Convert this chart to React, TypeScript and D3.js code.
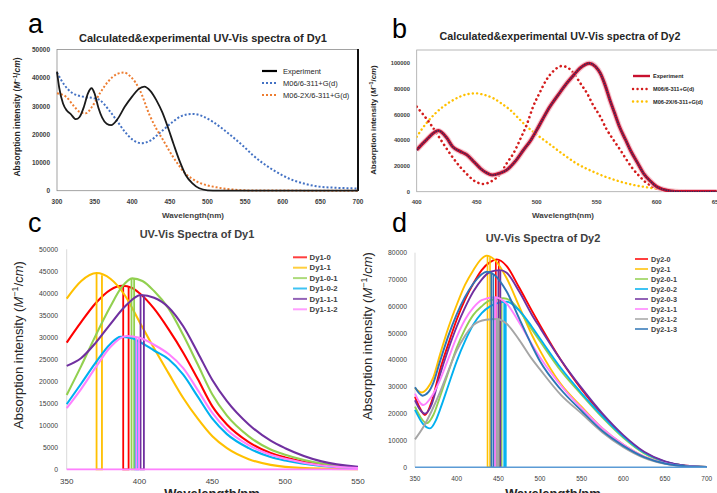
import React from 'react';
import * as d3 from 'd3';

// ---- panel a : Dy1 calculated vs experimental ----
const aExperiment = [[300, 42300], [303, 36500], [308, 31000], [313, 28500], [318, 27300], [325, 25400], [330, 26200], [336, 30000], [341, 34500], [346, 36400], [350, 34500], [355, 29500], [360, 26000], [366, 23800], [372, 23300], [380, 25300], [390, 29800], [400, 33500], [408, 36000], [416, 37000], [424, 35500], [432, 32200], [440, 27800], [447, 22800], [455, 16500], [463, 10500], [471, 5600], [480, 2600], [489, 850], [500, 150], [515, 0], [700, 0]];
const aM06 = [[300, 42000], [310, 37500], [320, 34800], [335, 33400], [350, 32800], [357, 32200], [368, 29000], [379, 25100], [390, 21000], [401, 18000], [412, 16900], [424, 17800], [436, 20400], [454, 24500], [466, 26600], [480, 27300], [494, 26400], [507, 24500], [520, 22000], [533, 19200], [547, 16000], [560, 12700], [573, 9900], [587, 7400], [600, 5400], [613, 3800], [630, 2400], [648, 1450], [670, 1050], [700, 800]];
const aM062X = [[300, 34600], [312, 33400], [322, 30200], [330, 28000], [338, 27500], [347, 30000], [357, 34600], [368, 38800], [380, 41500], [389, 42000], [398, 40500], [410, 35800], [423, 26900], [432, 22000], [441, 18000], [454, 12100], [462, 9000], [470, 6200], [480, 4200], [489, 2850], [500, 1900], [512, 1200], [525, 650], [542, 250], [560, 80], [700, 0]];

// ---- panel b : Dy2 calculated vs experimental ----
const bExperiment = [[400, 32500], [408, 40300], [418, 47500], [425, 42000], [430, 35000], [436, 31500], [442, 28600], [448, 23000], [453, 18200], [458, 14800], [463, 13000], [469, 14300], [475, 16900], [482, 23500], [489, 32500], [495, 40000], [500, 48000], [505, 56500], [511, 66200], [518, 75500], [525, 84400], [531, 91000], [536, 96100], [544, 100000], [549, 97500], [553, 92200], [557, 83000], [561, 71400], [565, 61000], [569, 50600], [574, 40500], [578, 32500], [584, 22500], [589, 14300], [595, 8000], [600, 3900], [606, 1600], [612, 500], [620, 0], [650, 0]];
const bM06 = [[400, 66200], [411, 53300], [422, 37700], [429, 28000], [436, 19500], [442, 13500], [447, 9100], [451, 7000], [455, 6000], [459, 6700], [464, 9100], [470, 14500], [475, 22100], [481, 30500], [486, 40300], [492, 53000], [497, 66200], [503, 78000], [508, 87000], [514, 94000], [521, 97900], [526, 96500], [531, 92200], [536, 85000], [542, 76600], [547, 67500], [553, 58400], [558, 49000], [564, 40300], [570, 32000], [575, 24700], [580, 18000], [586, 11700], [591, 7200], [597, 3900], [603, 1800], [608, 800], [615, 250], [625, 0], [650, 0]];
const bM062X = [[400, 42800], [408, 53300], [415, 60500], [422, 66200], [429, 70600], [436, 74000], [442, 75900], [449, 76600], [456, 75500], [464, 72700], [471, 68500], [478, 63600], [485, 57000], [492, 50600], [499, 45200], [506, 40300], [513, 35500], [519, 31200], [526, 26500], [533, 22100], [540, 18600], [547, 15600], [554, 12800], [561, 10400], [568, 8300], [575, 6500], [583, 4800], [592, 3400], [600, 2300], [608, 1300], [620, 650], [631, 300], [650, 100]];

// ---- panel c : Dy1 structures ----
const cNames = ['Dy1-0', 'Dy1-1', 'Dy1-0-1', 'Dy1-0-2', 'Dy1-1-1', 'Dy1-1-2'];
const cColors = ['#ff0000', '#ffc000', '#92d050', '#00b0f0', '#7030a0', '#ff80ff'];
const cDy10 = [[350, 28800], [360, 33500], [370, 37800], [380, 40800], [388, 41700], [395, 41200], [400, 40000], [410, 36500], [420, 31800], [430, 26500], [440, 20500], [450, 14300], [460, 10200], [475, 6200], [490, 3700], [500, 2700], [525, 1000], [550, 350]];
const cDy11 = [[350, 38800], [360, 42800], [370.5, 44600], [380, 43300], [390, 39500], [400, 33500], [410, 27500], [420, 21800], [430, 16200], [440, 11500], [450, 7500], [460, 4800], [475, 2300], [490, 1000], [500, 550], [525, 150], [550, 50]];
const cDy101 = [[350, 16900], [360, 23500], [370, 30500], [380, 37000], [388, 41500], [395, 43400], [402, 42800], [410, 40500], [420, 36500], [430, 30500], [440, 23800], [450, 17000], [460, 12200], [475, 7500], [490, 4500], [500, 3300], [525, 1300], [550, 450]];
const cDy102 = [[350, 14800], [360, 19500], [370, 24300], [380, 28500], [387, 30100], [395, 29800], [400, 29000], [410, 27000], [420, 25000], [430, 21500], [440, 16500], [450, 11500], [460, 8000], [475, 4800], [490, 2800], [500, 2000], [525, 750], [550, 250]];
const cDy111 = [[350, 23500], [360, 25300], [370, 28800], [380, 33000], [390, 37000], [401, 39600], [410, 39000], [420, 36800], [430, 32500], [440, 26500], [450, 20300], [460, 15500], [475, 10200], [490, 6500], [500, 4800], [525, 1800], [550, 550]];
const cDy112 = [[350, 13900], [360, 18300], [370, 23200], [380, 27800], [391, 30300], [400, 29900], [410, 28300], [420, 26200], [430, 23000], [440, 18000], [450, 12800], [460, 9000], [475, 5500], [490, 3300], [500, 2400], [525, 850], [550, 300]];
const cCurves = [cDy10, cDy11, cDy101, cDy102, cDy111, cDy112];
const cSticks = [[388.8, 392.5], [370.5, 374.2], [394.5, 396.3], [397.3, 399], [400.7, 403], [397.8, 399.6]];

// ---- panel d : Dy2 structures ----
const dNames = ['Dy2-0', 'Dy2-1', 'Dy2-0-1', 'Dy2-0-2', 'Dy2-0-3', 'Dy2-1-1', 'Dy2-1-2', 'Dy2-1-3'];
const dColors = ['#ff0000', '#ffc000', '#92d050', '#00b0f0', '#7030a0', '#ff80ff', '#a5a5a5', '#2e75b6'];
const dDy20 = [[350, 26300], [356, 22000], [362, 19500], [370, 24500], [380, 36300], [390, 46000], [400, 55000], [410, 62500], [420, 68500], [430, 73500], [440, 76500], [448, 77500], [460, 75000], [475, 67000], [490, 58500], [500, 53000], [525, 40000], [550, 29000], [575, 19500], [600, 11500], [625, 5500], [650, 2000], [675, 600], [700, 150]];
const dDy21 = [[350, 29500], [358, 27900], [365, 29500], [372, 33500], [380, 42000], [390, 52000], [400, 60500], [410, 68000], [420, 73500], [430, 77800], [436, 78900], [445, 77500], [460, 70500], [475, 60000], [490, 49500], [500, 43500], [525, 31000], [550, 22500], [575, 14500], [600, 8500], [625, 4000], [650, 1500], [675, 400], [700, 100]];
const dDy201 = [[350, 22600], [357, 18500], [364, 16400], [372, 19500], [380, 26300], [390, 35500], [400, 44500], [410, 51500], [420, 56800], [430, 60000], [440, 62200], [456, 63000], [465, 62000], [475, 58500], [490, 51500], [500, 47000], [525, 36000], [550, 27000], [575, 18500], [600, 11000], [625, 5200], [650, 2000], [675, 500], [700, 100]];
const dDy202 = [[350, 21400], [360, 16000], [368, 14500], [375, 17500], [380, 21500], [390, 30500], [400, 39500], [410, 47000], [420, 53200], [430, 57500], [440, 60000], [450, 61300], [460, 61700], [475, 58500], [490, 52500], [500, 48000], [525, 37000], [550, 27600], [575, 19000], [600, 11500], [625, 5500], [650, 2100], [675, 500], [700, 100]];
const dDy203 = [[350, 25000], [356, 21500], [362, 20000], [370, 23500], [380, 34500], [390, 44000], [400, 52400], [410, 59500], [420, 65500], [430, 70000], [440, 72800], [452, 73500], [460, 72500], [475, 65500], [490, 57000], [500, 52000], [525, 40000], [550, 29500], [575, 20000], [600, 12000], [625, 5800], [650, 2200], [675, 600], [700, 150]];
const dDy211 = [[350, 27500], [355, 24500], [360, 23200], [368, 25500], [380, 32500], [390, 40500], [400, 48500], [410, 55000], [420, 59500], [430, 62300], [446, 63400], [460, 61000], [475, 54000], [490, 46000], [500, 41000], [525, 30500], [550, 22000], [575, 14500], [600, 8500], [625, 4000], [650, 1500], [675, 400], [700, 100]];
const dDy212 = [[350, 10400], [360, 15000], [370, 21000], [380, 28000], [390, 36000], [400, 43500], [410, 49000], [420, 53000], [435, 55000], [448, 55300], [460, 53500], [475, 47500], [490, 40500], [500, 36500], [525, 27000], [550, 20000], [575, 13000], [600, 7500], [625, 3500], [650, 1300], [675, 350], [700, 80]];
const dDy213 = [[350, 29800], [359, 26700], [366, 28000], [372, 31500], [380, 39500], [390, 49000], [400, 57000], [410, 63500], [420, 68500], [430, 72000], [436, 72900], [445, 71800], [460, 65500], [475, 55500], [490, 45500], [500, 39500], [525, 29000], [550, 21000], [575, 13500], [600, 8000], [625, 3800], [650, 1400], [675, 400], [700, 100]];
const dCurves = [dDy20, dDy21, dDy201, dDy202, dDy203, dDy211, dDy212, dDy213];
const dSticks = [[447, 450.5], [437, 440], [452, 454], [457, 459], [450, 452.5], [445, 447], [448, 450], [441.5, 444]];

const aTicksX = [300, 350, 400, 450, 500, 550, 600, 650, 700];
const aTicksY = [0, 10000, 20000, 30000, 40000, 50000];
const bTicksX = [400, 450, 500, 550, 600, 650];
const bTicksY = [0, 20000, 40000, 60000, 80000, 100000];
const cTicksX = [350, 400, 450, 500, 550];
const cTicksY = d3.range(0, 50001, 5000);
const dTicksX = [350, 400, 450, 500, 550, 600, 650, 700];
const dTicksY = d3.range(0, 80001, 10000);

const FONT = 'Liberation Sans, Arial, sans-serif';

function YLabel({ x, y, size }: { x: number; y: number; size: number }) {
  const sup = size * 0.7;
  return (
    <text transform={`translate(${x},${y}) rotate(-90)`} textAnchor="middle" fontSize={size} fill="#262626" fontWeight={size < 11 ? 'bold' : 'normal'}>
      Absorption intensity (<tspan fontStyle="italic">M</tspan>
      <tspan dy={-size * 0.4} fontSize={sup}>−1</tspan>
      <tspan dy={size * 0.4}>/</tspan>
      <tspan fontStyle="italic">cm</tspan>)
    </text>
  );
}

function stickPath(pts: number[][], s: number[], x: any, y: any) {
  const f = d3.scaleLinear(pts.map((p) => p[0]), pts.map((p) => p[1]));
  return `M${x(s[0])},${y(f(s[0]))}L${x(s[0])},${y(0)}L${x(s[1])},${y(0)}L${x(s[1])},${y(f(s[1]))}`;
}

export default function App() {
  // panel a scales
  const xA = d3.scaleLinear([300, 700], [57, 358]);
  const yA = d3.scaleLinear([0, 50000], [190.7, 50]);
  const lineA = d3.line<number[]>().x((d) => xA(d[0])).y((d) => yA(d[1])).curve(d3.curveMonotoneX);

  const xB = d3.scaleLinear([400, 650], [416.7, 716.7]);
  const yB = d3.scaleLinear([0, 100000], [191.7, 63.3]);
  const lineB = d3.line<number[]>().x((d) => xB(d[0])).y((d) => yB(d[1])).curve(d3.curveMonotoneX);

  const xC = d3.scaleLinear([350, 550], [66.7, 358]);
  const yC = d3.scaleLinear([0, 50000], [469.3, 249.3]);
  const lineC = d3.line<number[]>().x((d) => xC(d[0])).y((d) => yC(d[1])).curve(d3.curveMonotoneX);

  const xD = d3.scaleLinear([350, 700], [415, 706.7]);
  const yD = d3.scaleLinear([0, 80000], [467.3, 252.7]);
  const lineD = d3.line<number[]>().x((d) => xD(d[0])).y((d) => yD(d[1])).curve(d3.curveMonotoneX);

  return (
    <svg width={717} height={493} style={{ position: 'absolute', left: 0, top: 0, background: '#fff' }} fontFamily={FONT}>
      <defs>
        <clipPath id="clipB"><rect x={416.7} y={50} width={310} height={142} /></clipPath>
      </defs>

      {/* ---------- panel a ---------- */}
      <text x={28} y={33} fontSize={27}>a</text>
      <text x={203} y={42} textAnchor="middle" fontSize={11} fontWeight="bold" fill="#262626">Calculated&amp;experimental UV-Vis spectra of Dy1</text>
      <rect x={57} y={49.5} width={301} height={141.2} fill="none" stroke="#8c8c8c" strokeWidth={0.8} />
      <line x1={358} x2={358} y1={49} y2={191} stroke="#111" strokeWidth={2} />
      {aTicksY.map((t) => (
        <text key={t} x={50} y={yA(t)} dy="0.35em" textAnchor="end" fontSize={6.5} fontWeight="bold" fill="#404040">{t}</text>
      ))}
      {aTicksX.map((t) => (
        <text key={t} x={xA(t)} y={204} textAnchor="middle" fontSize={6.5} fontWeight="bold" fill="#404040">{t}</text>
      ))}
      <text x={193} y={218} textAnchor="middle" fontSize={8} fontWeight="bold" fill="#404040">Wavelength(nm)</text>
      <YLabel x={20} y={117} size={8.5} />
      <path d={lineA(aM06) as string} fill="none" stroke="#4472c4" strokeWidth={2} strokeDasharray="2 2" />
      <path d={lineA(aM062X) as string} fill="none" stroke="#ed7d31" strokeWidth={2} strokeDasharray="2 2" />
      <path d={lineA(aExperiment) as string} fill="none" stroke="#1a1a1a" strokeWidth={1.8} />
      <line x1={262} x2={277} y1={71} y2={71} stroke="#000" strokeWidth={2.2} />
      <line x1={262} x2={277} y1={83} y2={83} stroke="#4472c4" strokeWidth={2} strokeDasharray="2 2" />
      <line x1={262} x2={277} y1={95} y2={95} stroke="#ed7d31" strokeWidth={2} strokeDasharray="2 2" />
      <text x={283} y={73.5} fontSize={7.5} fill="#262626">Experiment</text>
      <text x={283} y={85.5} fontSize={7.5} fill="#262626">M06/6-311+G(d)</text>
      <text x={283} y={97.5} fontSize={7.5} fill="#262626">M06-2X/6-311+G(d)</text>

      {/* ---------- panel b ---------- */}
      <text x={392} y={38} fontSize={27}>b</text>
      <text x={560} y={40} textAnchor="middle" fontSize={10.7} fontWeight="bold" fill="#262626">Calculated&amp;experimental UV-Vis spectra of Dy2</text>
      <rect x={416.7} y={50} width={320} height={141.7} fill="none" stroke="#a6a6a6" strokeWidth={0.8} />
      {bTicksY.map((t) => (
        <text key={t} x={410} y={yB(t)} dy="0.35em" textAnchor="end" fontSize={5.8} fontWeight="bold" fill="#404040">{t}</text>
      ))}
      {bTicksX.map((t) => (
        <text key={t} x={xB(t)} y={203.5} textAnchor="middle" fontSize={6} fontWeight="bold" fill="#404040">{t}</text>
      ))}
      <text x={563} y={218} textAnchor="middle" fontSize={8} fontWeight="bold" fill="#404040">Wavelength(nm)</text>
      <YLabel x={376} y={120} size={7.8} />
      <g clipPath="url(#clipB)">
        <path d={lineB(bM062X) as string} fill="none" stroke="#ffc000" strokeWidth={2.4} strokeDasharray="0.1 4.2" strokeLinecap="round" />
        <path d={lineB(bM06) as string} fill="none" stroke="#d41c1c" strokeWidth={2.6} strokeDasharray="0.1 4.6" strokeLinecap="round" />
        <path d={lineB(bExperiment) as string} fill="none" stroke="#f3b6c4" strokeWidth={5.5} opacity={0.8} />
        <path d={lineB(bExperiment) as string} fill="none" stroke="#c8102e" strokeWidth={3.2} />
        <path d={lineB(bExperiment) as string} fill="none" stroke="#2d2d60" strokeWidth={1.5} strokeDasharray="1.4 1" />
      </g>
      <line x1={633} x2={650} y1={76} y2={76} stroke="#c8102e" strokeWidth={2.4} />
      <line x1={633} x2={650} y1={89} y2={89} stroke="#d41c1c" strokeWidth={2.4} strokeDasharray="0.1 4.4" strokeLinecap="round" />
      <line x1={633} x2={650} y1={101.5} y2={101.5} stroke="#ffc000" strokeWidth={2.4} strokeDasharray="0.1 4.4" strokeLinecap="round" />
      <text x={653} y={78} fontSize={5.6} fontWeight="bold" fill="#262626">Experiment</text>
      <text x={653} y={91} fontSize={5.6} fontWeight="bold" fill="#262626">M06/6-311+G(d)</text>
      <text x={653} y={103.5} fontSize={5.6} fontWeight="bold" fill="#262626">M06-2X/6-311+G(d)</text>

      {/* ---------- panel c ---------- */}
      <text x={28} y={232} fontSize={27}>c</text>
      <text x={197} y={238} textAnchor="middle" fontSize={11} fontWeight="bold" fill="#404040">UV-Vis Spectra of Dy1</text>
      <line x1={xC(350)} x2={xC(350)} y1={yC(50000)} y2={yC(0)} stroke="#d9d9d9" />
      <line x1={xC(350)} x2={xC(550)} y1={yC(0)} y2={yC(0)} stroke="#d9d9d9" />
      {cTicksY.map((t) => (
        <text key={t} x={58} y={yC(t)} dy="0.35em" textAnchor="end" fontSize={6.8} fill="#404040">{t}</text>
      ))}
      {cTicksX.map((t) => (
        <text key={t} x={xC(t)} y={483.5} textAnchor="middle" fontSize={8} fill="#404040">{t}</text>
      ))}
      <text x={212} y={498} textAnchor="middle" fontSize={13} fontWeight="bold" fill="#262626">Wavelength/nm</text>
      <YLabel x={23} y={345} size={13} />
      {cCurves.map((pts, i) => (
        <g key={cNames[i]}>
          <path d={stickPath(pts, cSticks[i], xC, yC)} fill="none" stroke={cColors[i]} strokeWidth={1.8} />
          <path d={lineC(pts) as string} fill="none" stroke={cColors[i]} strokeWidth={2.1} />
        </g>
      ))}
      <line x1={xC(350)} x2={xC(550)} y1={yC(0)} y2={yC(0)} stroke="#ff80ff" strokeWidth={1.8} />
      {cNames.map((n, i) => (
        <g key={n}>
          <line x1={293} x2={307} y1={257.3 + i * 10.4} y2={257.3 + i * 10.4} stroke={cColors[i]} strokeWidth={2} opacity={0.75} />
          <text x={309.5} y={257.3 + i * 10.4} dy="0.35em" fontSize={7.8} fontWeight="bold" fill="#404040">{n}</text>
        </g>
      ))}

      {/* ---------- panel d ---------- */}
      <text x={392} y={232} fontSize={27}>d</text>
      <text x={543} y={242} textAnchor="middle" fontSize={11} fontWeight="bold" fill="#404040">UV-Vis Spectra of Dy2</text>
      <line x1={xD(350)} x2={xD(350)} y1={yD(80000)} y2={yD(0)} stroke="#d9d9d9" />
      {dTicksY.map((t) => (
        <text key={t} x={407} y={yD(t)} dy="0.35em" textAnchor="end" fontSize={6.8} fill="#404040">{t}</text>
      ))}
      {dTicksX.map((t) => (
        <text key={t} x={xD(t)} y={480.5} textAnchor="middle" fontSize={6.5} fill="#404040">{t}</text>
      ))}
      <text x={553} y={498} textAnchor="middle" fontSize={13} fontWeight="bold" fill="#262626">Wavelength/nm</text>
      <YLabel x={372} y={336} size={13} />
      {dCurves.map((pts, i) => (
        <g key={dNames[i]}>
          <path d={stickPath(pts, dSticks[i], xD, yD)} fill="none" stroke={dColors[i]} strokeWidth={1.6} />
          <path d={lineD(pts) as string} fill="none" stroke={dColors[i]} strokeWidth={1.9} />
        </g>
      ))}
      <line x1={xD(350)} x2={xD(700)} y1={yD(0)} y2={yD(0)} stroke="#5b9bd5" strokeWidth={1.6} />
      {dNames.map((n, i) => (
        <g key={n}>
          <line x1={635} x2={648} y1={259 + i * 10} y2={259 + i * 10} stroke={dColors[i]} strokeWidth={2} opacity={0.75} />
          <text x={651} y={259 + i * 10} dy="0.35em" fontSize={7.2} fontWeight="bold" fill="#404040">{n}</text>
        </g>
      ))}
    </svg>
  );
}
